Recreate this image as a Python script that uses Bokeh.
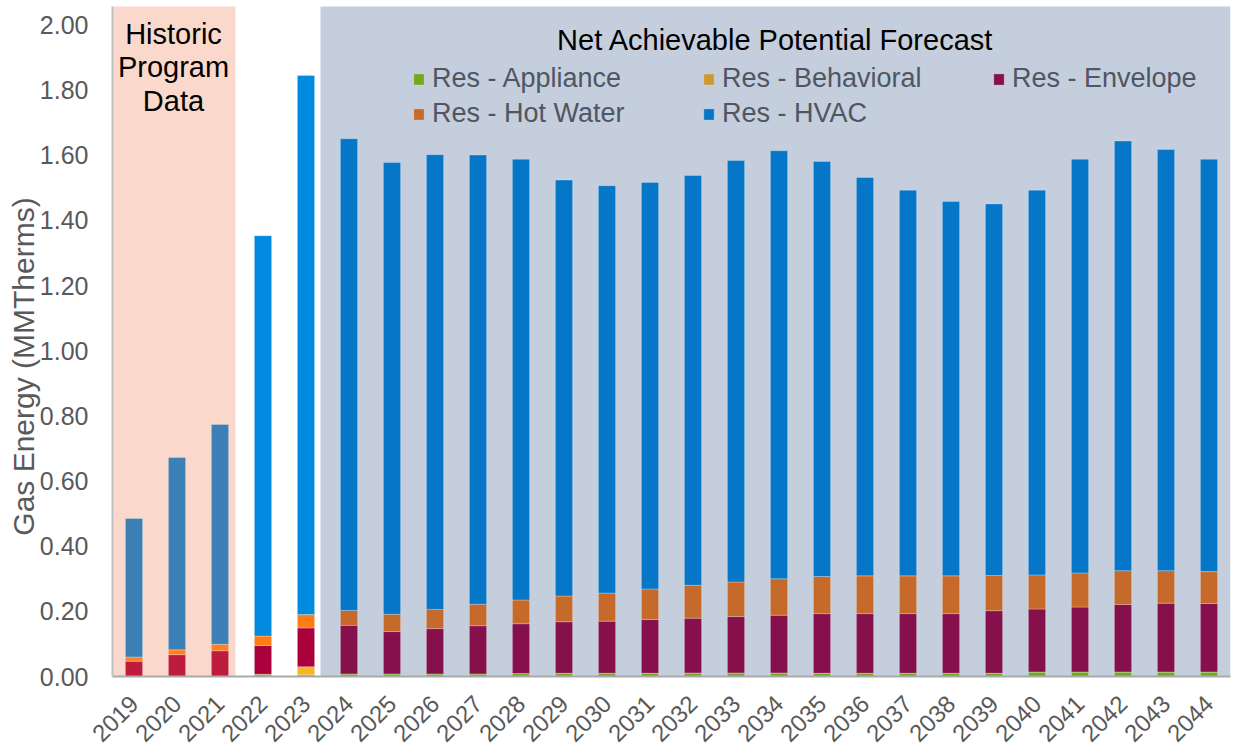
import math
from bokeh.plotting import figure
from bokeh.models import (ColumnDataSource, FactorRange, Range1d, FixedTicker,
                          NumeralTickFormatter, Label, Legend, LegendItem)
from bokeh.transform import stack
from bokeh.embed import file_html
from bokeh.resources import INLINE

# ---------------- data (MMTherms) ----------------
years = [str(y) for y in range(2019, 2045)]
appliance = [0.000, 0.000, 0.000, 0.007, 0.005,
             0.008, 0.008, 0.008, 0.008, 0.009, 0.010, 0.010, 0.010, 0.011, 0.011,
             0.011, 0.010, 0.010, 0.010, 0.010, 0.010, 0.014, 0.014, 0.014, 0.014, 0.014]
behavioral = [0.000, 0.000, 0.000, 0.000, 0.025,
              0.000, 0.000, 0.000, 0.000, 0.000, 0.000, 0.000, 0.000, 0.000, 0.000,
              0.000, 0.000, 0.000, 0.000, 0.000, 0.000, 0.000, 0.000, 0.000, 0.000, 0.000]
envelope = [0.047, 0.067, 0.079, 0.088, 0.119,
            0.149, 0.130, 0.139, 0.148, 0.153, 0.158, 0.160, 0.165, 0.168, 0.173,
            0.177, 0.183, 0.183, 0.183, 0.183, 0.192, 0.193, 0.199, 0.207, 0.211, 0.210]
hot_water = [0.013, 0.015, 0.020, 0.029, 0.041,
             0.046, 0.053, 0.059, 0.066, 0.073, 0.079, 0.086, 0.094, 0.101, 0.106,
             0.112, 0.114, 0.116, 0.116, 0.116, 0.108, 0.105, 0.105, 0.104, 0.100, 0.098]
hvac = [0.425, 0.590, 0.675, 1.229, 1.655,
        1.448, 1.387, 1.396, 1.379, 1.353, 1.277, 1.251, 1.248, 1.258, 1.294,
        1.314, 1.274, 1.223, 1.184, 1.149, 1.141, 1.181, 1.270, 1.319, 1.293, 1.266]
period = ["hist"] * 3 + ["recent"] * 2 + ["forecast"] * 21

series = ["appliance", "behavioral", "envelope", "hot_water", "hvac"]
labels = ["Res - Appliance", "Res - Behavioral", "Res - Envelope",
          "Res - Hot Water", "Res - HVAC"]
palette = {
    "hist":     {"appliance": "#7AC000", "behavioral": "#F9B324", "envelope": "#BE1C3C",
                 "hot_water": "#FF7F24", "hvac": "#3D80B6"},
    "recent":   {"appliance": "#7AC000", "behavioral": "#F9B324", "envelope": "#AA003C",
                 "hot_water": "#FF7B14", "hvac": "#008BE0"},
    "forecast": {"appliance": "#73A822", "behavioral": "#C99A36", "envelope": "#86104C",
                 "hot_water": "#C56A2B", "hvac": "#0677C8"},
}

data = dict(year=years, appliance=appliance, behavioral=behavioral,
            envelope=envelope, hot_water=hot_water, hvac=hvac)
for s in series:
    data[s + "_color"] = [palette[pd][s] for pd in period]
src = ColumnDataSource(data)

FONT = "Liberation Sans"
GRAY = "#595959"

p = figure(width=1238, height=753, output_backend="svg", toolbar_location=None,
           x_range=FactorRange(*years, range_padding=0),
           y_range=Range1d(0, 2.057),
           min_border_left=112, min_border_right=8, min_border_top=6,
           min_border_bottom=77)
p.outline_line_color = None
p.xgrid.grid_line_color = None
p.ygrid.grid_line_color = None
p.background_fill_color = "white"
p.border_fill_color = "white"

# shaded regions
p.quad(left=[0], right=[2.86], bottom=[0], top=[2.1], fill_color="#FAD8CC", line_color=None)
p.quad(left=[4.837], right=[26], bottom=[0], top=[2.1], fill_color="#C5CEDC", line_color=None)

# stacked bars with per-period colours
renderers = []
for i, s in enumerate(series):
    bottom = stack(*series[:i]) if i > 0 else 0
    r = p.vbar(x="year", bottom=bottom, top=stack(*series[:i + 1]), width=0.4,
               fill_color=s + "_color", line_color="white", line_alpha=0.25,
               line_width=1, source=src)
    renderers.append(r)

items = [LegendItem(label=lab, renderers=[r], index=10) for lab, r in zip(labels, renderers)]
legend = Legend(items=items, orientation="horizontal", ncols=3,
                location=(300, 547), padding=0, margin=0, spacing=4,
                glyph_width=13, glyph_height=14, label_standoff=7,
                label_width=266, label_height=30,
                label_text_font=FONT, label_text_font_size="27px",
                label_text_color="#4F5663",
                border_line_color=None, background_fill_alpha=0)
p.add_layout(legend, "center")

# axes
p.yaxis.ticker = FixedTicker(ticks=[0.0, 0.2, 0.4, 0.6, 0.8, 1.0, 1.2, 1.4, 1.6, 1.8, 2.0])
p.yaxis.formatter = NumeralTickFormatter(format="0.00")
p.yaxis.major_tick_line_color = None
p.yaxis.minor_tick_line_color = None
p.yaxis.major_tick_out = 0
p.yaxis.major_label_standoff = 24
p.yaxis.major_label_text_font = FONT
p.yaxis.major_label_text_font_size = "25px"
p.yaxis.major_label_text_color = GRAY
p.yaxis.axis_line_color = "#BFBFBF"
p.yaxis.axis_line_width = 2
p.yaxis.axis_label = "Gas Energy (MMTherms)      "
p.yaxis.axis_label_standoff = -3
p.yaxis.axis_label_text_font = FONT
p.yaxis.axis_label_text_font_size = "30px"
p.yaxis.axis_label_text_font_style = "normal"
p.yaxis.axis_label_text_color = GRAY

p.xaxis.major_tick_line_color = None
p.xaxis.major_tick_out = 0
p.xaxis.major_label_standoff = 23
p.xaxis.major_label_orientation = math.pi / 4
p.xaxis.major_label_text_font = FONT
p.xaxis.major_label_text_font_size = "24px"
p.xaxis.major_label_text_color = GRAY
p.xaxis.axis_line_color = "#A9A9A9"
p.xaxis.axis_line_width = 2

# texts
p.add_layout(Label(x=61, y=659, x_units="screen", y_units="screen",
                   text="Historic\nProgram\nData", text_align="center",
                   text_baseline="top", text_line_height=1.06,
                   text_font=FONT, text_font_size="29px", text_color="black"))
p.add_layout(Label(x=663, y=637, x_units="screen", y_units="screen",
                   text="Net Achievable Potential Forecast", text_align="center",
                   text_baseline="alphabetic",
                   text_font=FONT, text_font_size="29px", text_color="black"))

open("out.html", "w").write(file_html(p, INLINE))
